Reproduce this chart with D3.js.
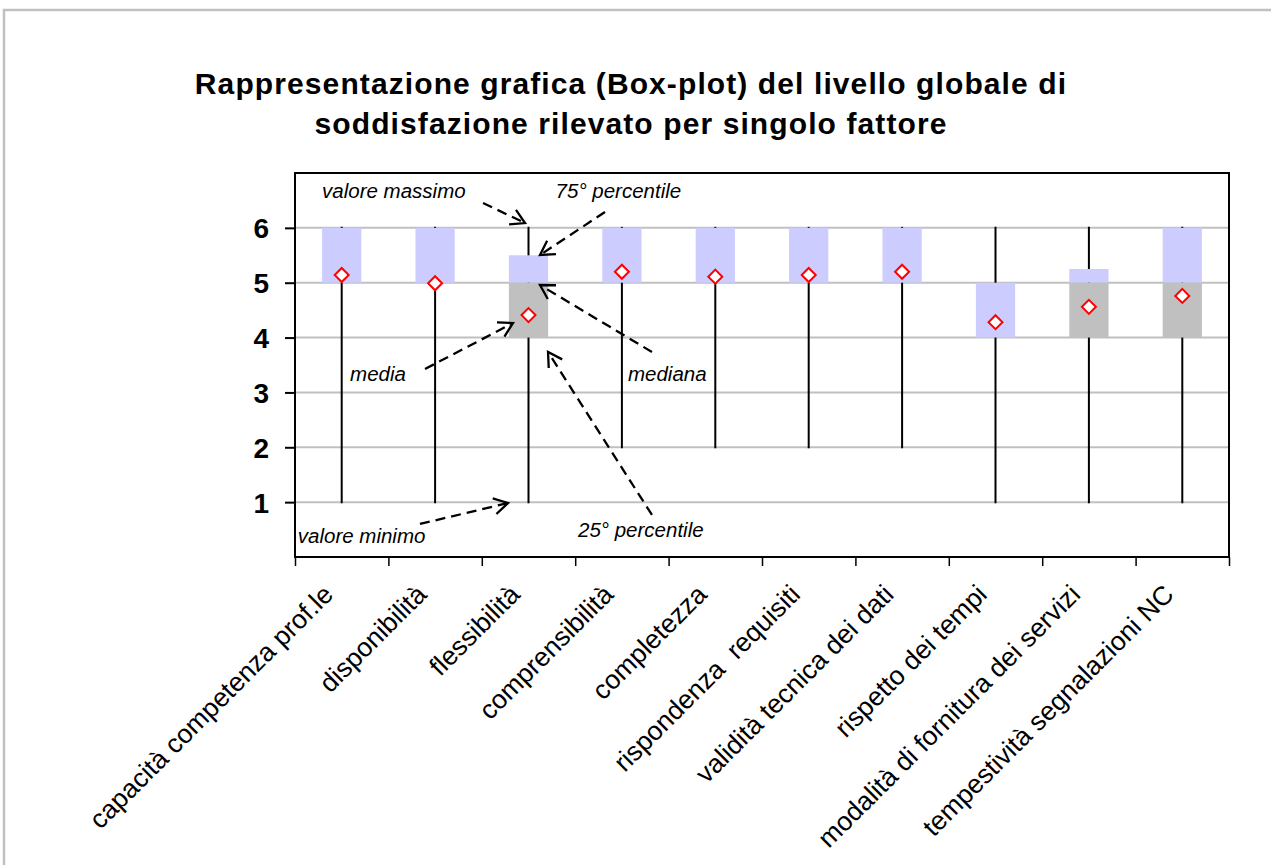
<!DOCTYPE html>
<html><head><meta charset="utf-8">
<script src="https://cdn.jsdelivr.net/npm/d3@7/dist/d3.min.js"></script>
<style>
body{margin:0;background:#fff}
svg{display:block}
text{font-family:"Liberation Sans",Arial,Helvetica,sans-serif;fill:#000}
</style>
</head><body>
<svg id="chart" width="1271" height="865"></svg>
<script>
// ---- data ----
const categories = [
  "capacità competenza prof.le",
  "disponibilità",
  "flessibilità",
  "comprensibilità",
  "completezza",
  "rispondenza  requisiti",
  "validità tecnica dei dati",
  "rispetto dei tempi",
  "modalità di fornitura dei servizi",
  "tempestività segnalazioni NC"
];
const minVals    = [1, 1, 1, 2, 2, 2, 2, 1, 1, 1];
const q1Vals     = [5, 5, 4, 5, 5, 5, 5, 4, 4, 4];
const medianVals = [5, 5, 5, 5, 5, 5, 5, 4, 5, 5];
const q3Vals     = [6, 6, 5.5, 6, 6, 6, 6, 5, 5.25, 6];
const maxVals    = [6, 6, 6, 6, 6, 6, 6, 6, 6, 6];
const meanVals   = [5.14, 4.99, 4.41, 5.2, 5.11, 5.14, 5.2, 4.28, 4.56, 4.76];
const yTicks     = [1, 2, 3, 4, 5, 6];
const titleLines = [
  "Rappresentazione grafica (Box-plot) del livello globale di",
  "soddisfazione rilevato per singolo fattore"
];
// annotation labels and arrows, in data units (category index, value)
const annoLabels = [
  {text: "valore massimo", i: 0.29, v: 6.54},
  {text: "75° percentile", i: 2.79, v: 6.54},
  {text: "media",          i: 0.59, v: 3.21},
  {text: "mediana",        i: 3.565, v: 3.21},
  {text: "valore minimo",  i: 0.03, v: 0.255},
  {text: "25° percentile", i: 3.03, v: 0.365}
];
const annoArrows = [
  {i0: 2.013, v0: 6.453, i1: 2.463, v1: 6.088},
  {i0: 3.319, v0: 6.289, i1: 2.623, v1: 5.505},
  {i0: 3.822, v0: 3.737, i1: 2.623, v1: 4.958},
  {i0: 1.392, v0: 3.427, i1: 2.334, v1: 4.265},
  {i0: 3.822, v0: 0.766, i1: 2.709, v1: 3.737},
  {i0: 1.338, v0: 0.602, i1: 2.281, v1: 0.984}
];

// ---- layout ----
const svg = d3.select("#chart");
const plot = {left: 295, right: 1229, top: 173, bottom: 557};

const rows = categories.map((c, k) => ({
  cat: c, min: minVals[k], q1: q1Vals[k], med: medianVals[k],
  q3: q3Vals[k], max: maxVals[k], mean: meanVals[k]
}));

const x = d3.scaleBand().domain(categories).range([plot.left, plot.right]).padding(0);
const xi = d3.scaleLinear().domain([0, categories.length]).range([plot.left, plot.right]);
const y = d3.scaleLinear().domain([0, 7]).range([plot.bottom, plot.top]);
const boxW = x.bandwidth() * 0.42;
const cx = d => x(d.cat) + x.bandwidth() / 2;

// outer frame
svg.append("rect").attr("x", 4).attr("y", 10).attr("width", 1300).attr("height", 900)
  .attr("fill", "none").attr("stroke", "#c0c0c0").attr("stroke-width", 2.5);

// title
svg.append("g").selectAll("text").data(titleLines).join("text")
  .attr("x", 631).attr("y", (d, k) => 94 + k * 40)
  .attr("text-anchor", "middle")
  .style("font-size", "30px").style("font-weight", "bold").style("letter-spacing", "1.1px")
  .text(d => d);

// gridlines
svg.append("g").selectAll("line").data(yTicks).join("line")
  .attr("x1", plot.left).attr("x2", plot.right)
  .attr("y1", d => y(d)).attr("y2", d => y(d))
  .attr("stroke", "#c0c0c0").attr("stroke-width", 2);

// whiskers
svg.append("g").selectAll("line").data(rows).join("line")
  .attr("x1", cx).attr("x2", cx)
  .attr("y1", d => y(d.min)).attr("y2", d => y(d.max))
  .attr("stroke", "#000").attr("stroke-width", 2).attr("stroke-linecap", "square");

// boxes: upper (median -> q3) lavender, lower (q1 -> median) gray
svg.append("g").selectAll("rect").data(rows.filter(d => d.q3 > d.med)).join("rect")
  .attr("x", d => cx(d) - boxW / 2).attr("width", boxW)
  .attr("y", d => y(d.q3)).attr("height", d => y(d.med) - y(d.q3))
  .attr("fill", "#ccccff");
svg.append("g").selectAll("rect").data(rows.filter(d => d.med > d.q1)).join("rect")
  .attr("x", d => cx(d) - boxW / 2).attr("width", boxW)
  .attr("y", d => y(d.med)).attr("height", d => y(d.q1) - y(d.med))
  .attr("fill", "#c0c0c0");

// means
const diamond = d3.symbol().type(d3.symbolSquare).size(98);
svg.append("g").selectAll("path").data(rows).join("path")
  .attr("d", diamond)
  .attr("transform", d => `translate(${cx(d)},${y(d.mean)}) rotate(45)`)
  .attr("fill", "#fff").attr("stroke", "#ff0000").attr("stroke-width", 2);

// annotations
svg.append("g").selectAll("text").data(annoLabels).join("text")
  .attr("x", d => xi(d.i)).attr("y", d => y(d.v))
  .style("font-size", "20.5px").style("font-style", "italic")
  .text(d => d.text);

const ag = svg.append("g").attr("fill", "none").attr("stroke", "#000").attr("stroke-width", 2.3);
annoArrows.forEach(a => {
  const X0 = xi(a.i0), Y0 = y(a.v0), X1 = xi(a.i1), Y1 = y(a.v1);
  ag.append("line").attr("x1", X0).attr("y1", Y0).attr("x2", X1).attr("y2", Y1)
    .attr("stroke-dasharray", "10,6");
  const ang = Math.atan2(Y1 - Y0, X1 - X0);
  const L = 16, spread = Math.PI / 6;
  const p1 = [X1 - L * Math.cos(ang - spread), Y1 - L * Math.sin(ang - spread)];
  const p2 = [X1 - L * Math.cos(ang + spread), Y1 - L * Math.sin(ang + spread)];
  ag.append("path").attr("d", `M${p1[0]},${p1[1]}L${X1},${Y1}L${p2[0]},${p2[1]}`);
});

// y axis
const yAxis = svg.append("g").attr("transform", `translate(${plot.left},0)`)
  .call(d3.axisLeft(y).tickValues(yTicks).tickSize(10).tickPadding(16).tickFormat(d3.format("d")));
yAxis.select(".domain").remove();
yAxis.selectAll(".tick line").attr("stroke", "#000").attr("stroke-width", 2);
yAxis.selectAll(".tick text").style("font-size", "28px").style("font-weight", "bold")
  .attr("font-family", null).attr("dy", "0.36em");

// x axis ticks at category boundaries
const xAxis = svg.append("g").attr("transform", `translate(0,${plot.bottom})`)
  .call(d3.axisBottom(xi).tickValues(d3.range(categories.length + 1)).tickSize(9).tickFormat(""));
xAxis.select(".domain").remove();
xAxis.selectAll(".tick line").attr("stroke", "#000").attr("stroke-width", 1.5);

// x labels
svg.append("g").selectAll("text").data(categories).join("text")
  .attr("transform", d => `translate(${x(d) + x.bandwidth() / 2 - 7},${plot.bottom + 39}) rotate(-45)`)
  .attr("text-anchor", "end")
  .style("font-size", "26.5px")
  .style("white-space", "pre")
  .text(d => d);

// plot border
svg.append("rect").attr("x", plot.left).attr("y", plot.top)
  .attr("width", plot.right - plot.left).attr("height", plot.bottom - plot.top)
  .attr("fill", "none").attr("stroke", "#000").attr("stroke-width", 2);
</script>
</body></html>
